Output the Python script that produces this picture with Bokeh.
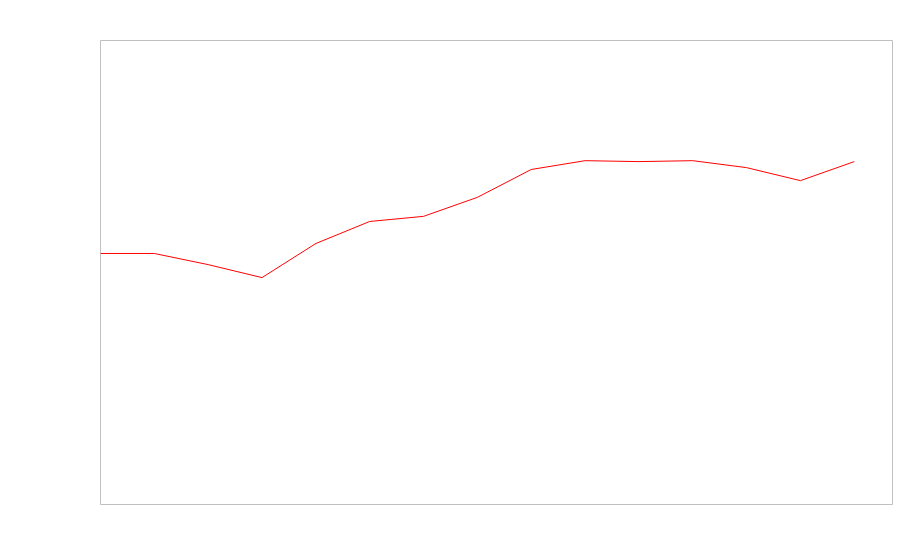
from bokeh.plotting import figure
from bokeh.embed import file_html
from bokeh.resources import INLINE
from bokeh.models import Range1d

x_index = list(range(15))
values = [54.1, 54.1, 51.7, 48.9, 56.25, 61.0, 62.1, 66.2, 72.2, 74.1, 73.9, 74.1, 72.6, 69.8, 73.9]

p = figure(width=894, height=552, output_backend="svg", toolbar_location=None,
           x_range=Range1d(0, 14.71), y_range=Range1d(0, 100),
           min_border_left=100, min_border_top=40, min_border_right=2, min_border_bottom=48)
p.xaxis.visible = False
p.yaxis.visible = False
p.xgrid.visible = False
p.ygrid.visible = False
p.outline_line_color = "#c0c0c0"
p.outline_line_width = 1
p.background_fill_color = "white"
p.border_fill_color = "white"

p.line(x_index, values, line_color="red", line_width=1)

open("out.html", "w").write(file_html(p, INLINE))
